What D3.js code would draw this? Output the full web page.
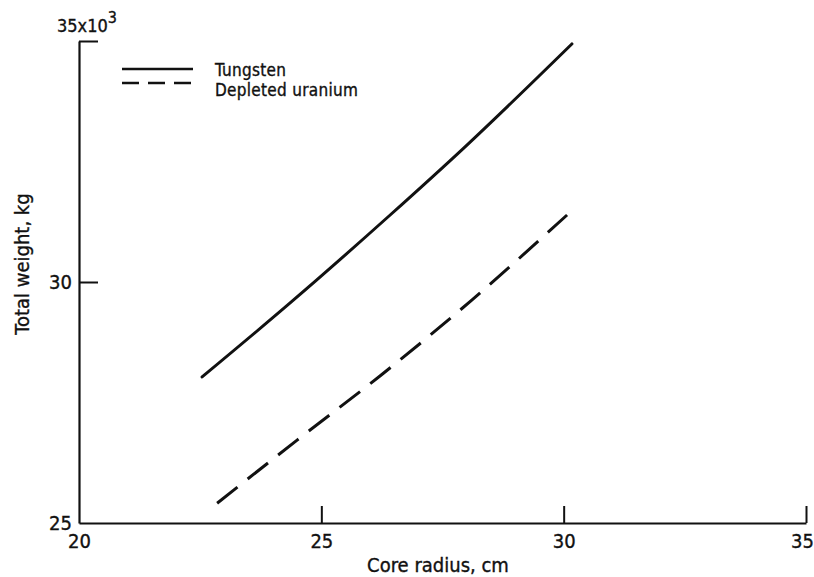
<!DOCTYPE html>
<html>
<head>
<meta charset="utf-8">
<script src="https://cdn.jsdelivr.net/npm/d3@7"></script>
<style>
  body { margin: 0; background: #fff; }
  svg { display: block; }
  text { font-family: "DejaVu Sans Condensed", "Liberation Sans Narrow", sans-serif; fill: #111; stroke: #111; stroke-width: 0.35px; }
</style>
</head>
<body>
<div id="chart"></div>
<script>
// core radius (cm) vs total weight (x10^3 kg)
const tungstenRadius = [22.54, 24.35, 26.42, 27.96, 30.17];
const tungstenWeight = [28.03, 29.56, 31.39, 32.80, 34.94];
const uraniumRadius = [22.85, 24.50, 26.21, 28.11, 30.07];
const uraniumWeight = [25.41, 26.72, 28.05, 29.63, 31.39];

const xTicks = [20, 25, 30, 35];
const yTicks = [25, 30, 35];
const seriesNames = ['Tungsten', 'Depleted uranium'];

const width = 814, height = 577;
const svg = d3.select('#chart').append('svg')
  .attr('width', width).attr('height', height);

const x = d3.scaleLinear().domain([20, 35]).range([79, 806]);
const y = d3.scaleLinear().domain([25, 35]).range([523, 41]);

// bottom axis, ticks pointing up
svg.append('g')
  .attr('transform', `translate(0,${y(25)})`)
  .call(d3.axisBottom(x).tickValues(xTicks).tickSize(-17).tickSizeOuter(0).tickPadding(11).tickFormat(d3.format('d')))
  .call(g => g.select('.domain').attr('stroke-width', 2.2).attr('stroke', '#111'))
  .call(g => g.selectAll('.tick line').attr('stroke-width', 2).attr('stroke', '#111'))
  .call(g => g.selectAll('.tick').filter(d => d === 20).select('line').remove())
  .call(g => g.selectAll('.tick text').attr('font-size', 20).attr('font-family', null).attr('fill', '#111'))
  .call(g => g.selectAll('.tick').filter(d => d === 35).select('text').attr('dx', -4));

// left axis, ticks pointing right
svg.append('g')
  .attr('transform', `translate(${x(20)},0)`)
  .call(d3.axisLeft(y).tickValues(yTicks).tickSize(-19).tickSizeOuter(0).tickPadding(7).tickFormat(d3.format('d')))
  .call(g => g.select('.domain').attr('stroke-width', 2.2).attr('stroke', '#111'))
  .call(g => g.selectAll('.tick line').attr('stroke-width', 2).attr('stroke', '#111'))
  .call(g => g.selectAll('.tick').filter(d => d === 25).select('line').remove())
  .call(g => g.selectAll('.tick text').attr('font-size', 20).attr('font-family', null).attr('fill', '#111'))
  .call(g => g.selectAll('.tick').filter(d => d === 35).select('text').remove());

// top label with multiplier
const topLabel = svg.append('text')
  .attr('x', 57).attr('y', 32)
  .attr('font-size', 18);
topLabel.append('tspan').text('35x10');
topLabel.append('tspan').attr('dy', -9).attr('font-size', 16).text('3');

// axis titles
svg.append('text')
  .attr('x', 438).attr('y', 572)
  .attr('text-anchor', 'middle')
  .attr('font-size', 20)
  .text('Core radius,  cm');

svg.append('text')
  .attr('transform', 'translate(29,264) rotate(-90)')
  .attr('text-anchor', 'middle')
  .attr('font-size', 20)
  .text('Total weight,  kg');

const line = d3.line()
  .x(d => x(d[0]))
  .y(d => y(d[1]))
  .curve(d3.curveMonotoneX);

svg.append('path')
  .datum(d3.zip(tungstenRadius, tungstenWeight))
  .attr('fill', 'none')
  .attr('stroke', '#111')
  .attr('stroke-width', 3)
  .attr('stroke-linecap', 'round')
  .attr('d', line);

const dashed = svg.append('path')
  .datum(d3.zip(uraniumRadius, uraniumWeight))
  .attr('fill', 'none')
  .attr('stroke', '#111')
  .attr('stroke-width', 3)
  .attr('d', line);
// 12 dashes, gap half a dash, so the line starts and ends on a dash
const len = dashed.node().getTotalLength();
const dash = len / (12 + 11 * 0.5);
dashed.attr('stroke-dasharray', `${dash},${dash * 0.5}`);

// legend
const legend = svg.append('g');
const dashes = [null, '17,9'];
const lineY = [69, 83];
const textY = [76, 96];
seriesNames.forEach((name, i) => {
  legend.append('line')
    .attr('x1', 122).attr('x2', 193)
    .attr('y1', lineY[i]).attr('y2', lineY[i])
    .attr('stroke', '#111')
    .attr('stroke-width', 2.5)
    .attr('stroke-dasharray', dashes[i]);
  legend.append('text')
    .attr('x', 215).attr('y', textY[i])
    .attr('font-size', 17)
    .attr('letter-spacing', 0.3)
    .text(name);
});
</script>
</body>
</html>
